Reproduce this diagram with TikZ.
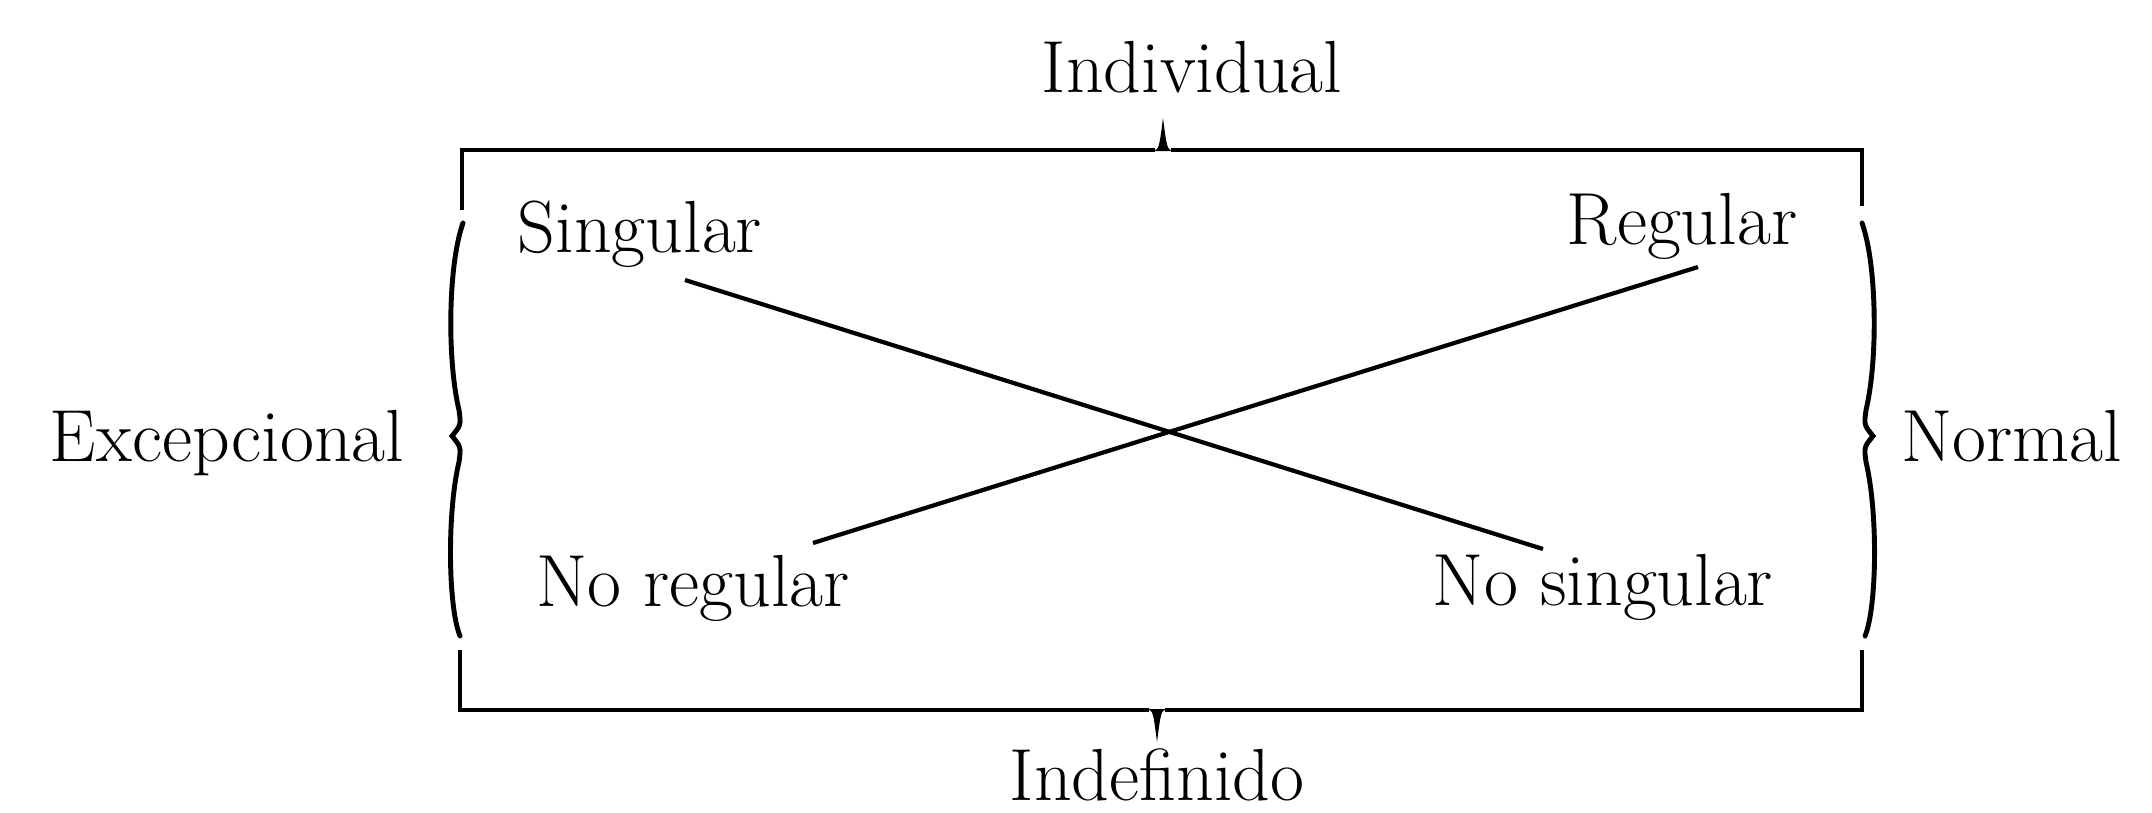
\documentclass[tikz,border=0pt]{standalone}
\usepackage{tikz}
\usetikzlibrary{positioning, calc}
\tikzset{
  rotulo/.style={inner sep=0pt, anchor=base, font=\fontsize{21}{25}\selectfont},
  marco/.style={line width=1.1pt, line join=miter},
  llave/.style={line width=1.4pt, line cap=round},
  aspa/.style={line width=1.2pt}
}

\begin{document}
\begin{tikzpicture}[x=0.01cm, y=-0.01cm]
    \useasboundingbox (0,0) rectangle (2152,812);

    % --- Esquinas del recuadro ---
    \coordinate (si) at (462,150);
    \coordinate (sd) at (1862,150);
    \coordinate (ii) at (460,710);
    \coordinate (id) at (1862,710);

    % --- Rotulos exteriores ---
    \node (individual) [rotulo] at (1192,92) {Individual};
    \node (indefinido) [rotulo] at (1157,800) {Indefinido};
    \node (excepcional) [rotulo] at (227,461) {Excepcional};
    \node (normal) [rotulo] at (2012,461) {Normal};

    % --- Rotulos interiores ---
    \node (singular) [rotulo] at (640,252) {Singular};
    \node (regular) [rotulo] at (1682,244) {Regular};
    \node (noregular) [rotulo] at (693,606) {No regular};
    \node (nosingular) [rotulo] at (1603,605) {No singular};

    % --- Lado superior con su pico ---
    \draw [marco] ($(si)+(0,60)$) -- (si) -- (1155,150) (1171,150) -- (sd) -- ($(sd)+(0,56)$);
    \fill (1153,151) .. controls (1159,149) .. (1163,118) .. controls (1167,149) .. (1173,151) -- cycle;

    % --- Lado inferior con su pico ---
    \draw [marco] ($(ii)+(0,-60)$) -- (ii) -- (1149,710) (1165,710) -- (id) -- ($(id)+(0,-60)$);
    \fill (1147,709) .. controls (1153,711) .. (1157,742) .. controls (1161,711) .. (1167,709) -- cycle;

    % --- Llaves laterales ---
    \draw [llave] (463,223) .. controls (448,265) and (447,360) .. (459,410)
        .. controls (461,425) .. (452,436) .. controls (461,447) .. (459,462)
        .. controls (447,512) and (448,607) .. (460,636);
    \draw [llave] (1862,223) .. controls (1877,265) and (1878,360) .. (1866,410)
        .. controls (1864,425) .. (1873,436) .. controls (1864,447) .. (1866,462)
        .. controls (1878,512) and (1877,607) .. (1865,636);

    % --- Aspa central ---
    \coordinate (a1) at (685,280);
    \coordinate (a2) at (1543,549);
    \coordinate (b1) at (1698,267);
    \coordinate (b2) at (813,543);
    \draw [aspa] (a1) -- (a2);
    \draw [aspa] (b1) -- (b2);

\end{tikzpicture}
\end{document}
